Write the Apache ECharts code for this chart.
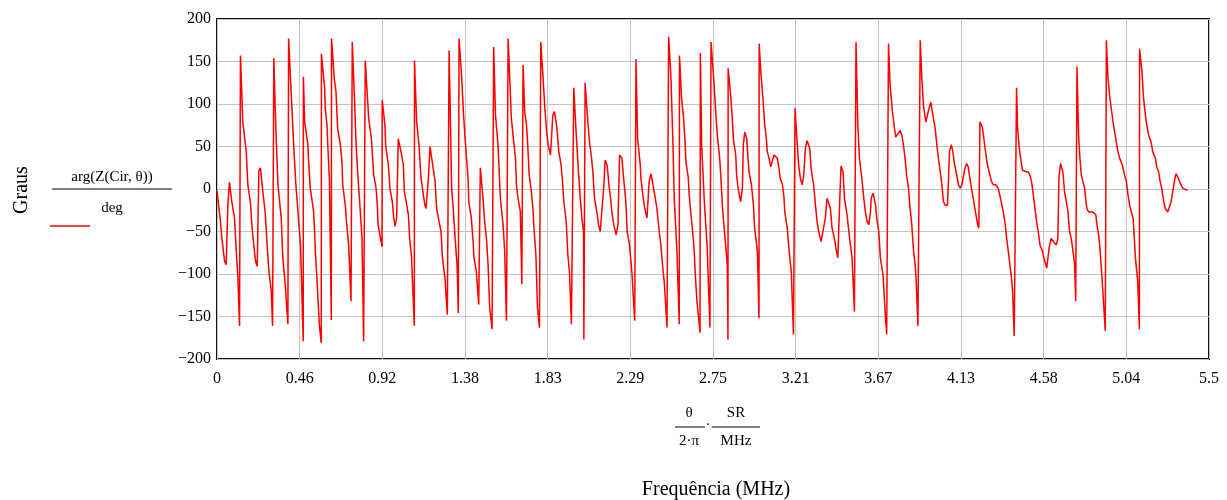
<!DOCTYPE html>
<html><head><meta charset="utf-8">
<script src="https://cdn.jsdelivr.net/npm/echarts@6/dist/echarts.min.js"></script>
<style>html,body{margin:0;padding:0;background:#fff}#c{width:1227px;height:500px}</style>
</head><body><div id="c"></div>
<script>
const xTickLabels = ['0','0.46','0.92','1.38','1.83','2.29','2.75','3.21','3.67','4.13','4.58','5.04','5.5'];
const yTickLabels = ['\u2212200','\u2212150','\u2212100','\u221250','0','50','100','150','200'];
const xs = [
0,0.019,0.027,0.042,0.051,0.060,0.069,0.082,0.097,0.105,0.116,0.125,0.130,0.143,0.162,0.171,0.186,0.193,0.204,0.214,0.223,0.232,0.241,0.254,0.267,0.278,0.288,0.301,0.308,0.315,0.325,0.338,0.356,0.365,0.378,0.393,0.397,0.412,0.425,0.436,0.449,0.463,0.478,0.479,
0.486,0.504,0.508,0.517,0.536,0.541,0.545,0.554,0.567,0.578,0.579,0.597,0.600,0.610,0.615,0.623,0.634,0.635,0.650,0.660,0.669,0.684,0.693,0.697,0.711,0.721,0.730,0.743,0.750,0.763,0.771,0.782,0.791,0.804,0.813,0.822,0.841,0.856,0.869,0.882,0.889,0.893,0.915,0.916,
0.931,0.935,0.950,0.959,0.972,0.980,0.987,0.996,1.005,1.015,1.024,1.033,1.039,1.052,1.061,1.068,1.079,1.083,1.094,1.095,1.107,1.120,1.131,1.144,1.153,1.159,1.172,1.181,1.190,1.196,1.209,1.218,1.231,1.242,1.250,1.264,1.277,1.287,1.301,1.311,1.320,1.331,1.338,1.342,1.357,1.366,1.375,1.392,
1.396,1.410,1.420,1.425,1.438,1.451,1.460,1.475,1.484,1.494,1.503,1.512,1.525,1.534,1.544,1.558,1.564,1.571,1.586,1.595,1.605,1.614,1.627,1.632,1.647,1.655,1.660,1.669,1.682,1.690,1.697,1.706,1.716,1.721,1.731,1.743,1.753,1.756,1.768,1.777,1.788,1.795,1.808,1.817,1.827,1.836,1.849,
1.862,1.871,1.884,1.895,1.908,1.917,1.923,1.936,1.945,1.954,1.965,1.978,1.991,2.004,2.014,2.023,2.032,2.034,2.041,2.052,2.065,2.075,2.084,2.093,2.106,2.115,2.125,2.134,2.145,2.152,2.163,2.173,2.182,2.189,2.200,2.213,2.223,2.232,2.245,2.256,2.267,2.274,2.287,2.300,2.316,2.323,
2.332,2.347,2.350,2.363,2.372,2.384,2.391,2.396,2.406,2.415,2.424,2.439,2.452,2.461,2.470,2.480,2.495,2.504,2.517,2.528,2.535,2.550,2.563,2.564,2.576,2.587,2.594,2.600,2.613,2.618,2.628,2.637,2.646,2.652,2.661,2.678,2.680,2.687,2.702,2.717,2.733,2.739,2.754,
2.765,2.774,2.787,2.792,2.802,2.807,2.820,2.829,2.833,2.834,2.848,2.857,2.863,2.876,2.881,2.889,2.903,2.913,2.918,2.926,2.937,2.944,2.950,2.963,2.974,2.981,2.996,3.005,3.006,3.014,3.027,3.037,3.046,3.051,3.061,3.070,3.079,3.088,3.098,3.107,3.116,3.122,3.135,3.144,3.148,3.162,3.172,3.184,3.196,3.205,3.214,
3.225,3.234,3.244,3.253,3.262,3.271,3.286,3.294,3.308,3.318,3.327,3.336,3.349,3.360,3.373,3.382,3.392,3.401,3.410,3.423,3.434,3.442,3.453,3.460,3.471,3.479,3.493,3.503,3.512,3.521,3.534,3.543,3.553,3.562,3.577,3.586,3.595,3.604,3.614,3.623,3.627,3.638,3.651,3.660,3.669,3.678,3.693,3.704,3.713,
3.723,3.732,3.745,3.754,3.763,3.773,3.788,3.797,3.806,3.815,3.825,3.834,3.843,3.852,3.862,3.871,3.876,3.886,3.899,3.908,3.917,3.930,3.939,3.948,3.958,3.969,3.982,3.991,4.000,4.010,4.019,4.028,4.037,4.050,4.056,4.061,4.071,4.080,4.087,4.098,4.111,4.121,4.130,
4.146,4.156,4.165,4.174,4.183,4.193,4.202,4.211,4.217,4.224,4.230,4.243,4.252,4.261,4.270,4.281,4.294,4.304,4.318,4.331,4.344,4.359,4.368,4.378,4.387,4.396,4.405,4.411,4.420,4.433,4.439,4.448,4.461,4.466,4.479,4.498,4.507,4.516,4.526,4.535,4.544,4.553,4.563,4.576,4.587,4.600,
4.607,4.616,4.625,4.631,4.638,4.653,4.662,4.668,4.677,4.690,4.699,4.709,4.718,4.727,4.736,4.746,4.755,4.761,4.768,4.777,4.783,4.792,4.801,4.810,4.816,4.823,4.833,4.842,4.853,4.862,4.872,4.879,4.888,4.894,4.903,4.909,4.925,4.931,4.940,4.949,4.958,4.968,4.977,4.986,4.995,5.005,5.020,5.032,5.042,5.051,5.060,5.069,5.079,
5.086,5.092,5.105,5.114,5.115,5.129,5.136,5.145,5.155,5.166,5.179,5.188,5.203,5.210,5.221,5.229,5.238,5.243,5.249,5.258,5.271,5.280,5.290,5.299,5.308,5.317,5.327,5.336,5.345,5.354,5.373,5.382
];
const ys = [
-2,-38,-58,-85,-89,-19,8,-15,-34,-66,-105,-161,157,79,44,5,-17,-42,-66,-85,-91,21,25,-3,-27,-66,-97,-120,-161,154,79,5,-34,-81,-112,-159,177,110,52,9,-27,-66,-179,132,
79,52,32,1,-27,-50,-73,-105,-159,-181,159,118,95,75,48,13,-154,177,130,114,71,52,32,5,-19,-46,-66,-132,173,102,52,13,-15,-58,-179,151,83,59,16,1,-19,-42,-68,105,
75,52,28,1,-15,-34,-44,-34,59,57,40,28,-3,-19,-30,-58,-81,-105,-161,151,79,52,13,-7,-19,-23,13,50,50,28,9,-23,-38,-50,-81,-105,-148,163,1,-27,-58,-89,-146,177,130,91,60,13,
-15,-34,-62,-81,-97,-136,25,-11,-38,-58,-89,-140,-165,167,87,52,24,-11,-42,-73,-155,177,110,83,52,36,5,-11,-27,-112,146,91,75,59,16,-3,-27,-42,-77,-140,-163,173,130,98,69,52,40,
87,91,73,44,28,5,-15,-38,-77,-97,-159,119,67,20,-11,-34,-50,-177,125,91,55,40,20,-11,-27,-42,-50,-50,5,34,28,5,-11,-27,-42,-54,-42,40,36,9,-15,-50,-66,-97,-155,153,
59,28,13,-11,-23,-34,-32,9,18,20,-3,-23,-50,-66,-89,-110,-163,179,130,52,-11,-73,-159,157,106,83,59,32,13,-7,-30,-50,-73,-101,-132,-169,160,52,-15,-66,-163,173,130,
91,63,36,20,-19,-34,-66,-89,-177,142,110,83,59,40,16,1,-15,1,52,67,59,36,20,5,-19,-46,-73,-152,171,141,106,75,59,44,36,26,28,40,42,36,24,13,5,-11,-27,-46,-73,-97,-171,95,63,
28,13,5,16,48,57,48,24,5,-19,-38,-50,-62,-64,-34,-11,-9,-23,-46,-58,-73,-81,-11,27,20,-11,-30,-50,-66,-81,-144,173,75,36,9,-11,-27,-38,-42,-27,-11,-5,-19,-38,-50,-81,-101,-144,-171,
171,122,91,75,61,61,69,63,52,36,13,1,-23,-42,-73,-89,-105,-161,175,130,98,79,79,95,102,87,71,52,36,20,5,-15,-19,-19,13,44,52,44,32,20,5,1,5,
24,30,26,13,1,-11,-23,-34,-42,-46,79,73,59,44,30,20,9,5,5,1,-11,-27,-38,-58,-73,-89,-105,-120,-173,119,71,48,28,22,21,20,16,9,-7,-23,-38,-50,-66,-73,-83,-93,
-93,-66,-58,-56,-62,-66,-58,13,30,20,-3,-15,-27,-50,-58,-73,-89,-132,144,63,40,16,9,1,-11,-23,-27,-28,-27,-25,-30,-42,-54,-66,-93,-112,-167,175,130,110,95,79,67,55,44,36,28,16,9,-7,-19,-27,-34,
-58,-81,-109,-165,165,137,110,91,75,63,55,44,36,26,20,9,1,-7,-15,-23,-27,-27,-15,-3,9,18,14,9,5,1,-1,-1
];
const seriesData = xs.map((x, i) => [x, ys[i]]);
const FONT = '"Liberation Serif", "Times New Roman", serif';
const chart = echarts.init(document.getElementById('c'), null, {renderer: 'canvas'});
const step = 5.5 / 12;
chart.setOption({
  animation: false,
  grid: {left: 217, right: 18, top: 19, height: 340, show: true, borderColor: '#111', borderWidth: 2, backgroundColor: 'transparent'},
  xAxis: {
    type: 'value', min: 0, max: 5.5, interval: step,
    axisLine: {show: false}, axisTick: {show: false},
    splitLine: {show: true, lineStyle: {color: '#c4c4c4', width: 1}},
    axisLabel: {
      margin: 12, color: '#000', fontFamily: FONT, fontSize: 16, showMaxLabel: true, showMinLabel: true,
      formatter: v => xTickLabels[Math.round(v / step)]
    }
  },
  yAxis: {
    type: 'value', min: -200, max: 200, interval: 50,
    axisLine: {show: false}, axisTick: {show: false},
    splitLine: {show: true, lineStyle: {color: '#c4c4c4', width: 1}},
    axisLabel: {
      margin: 6, color: '#000', fontFamily: FONT, fontSize: 16,
      formatter: v => yTickLabels[Math.round((v + 200) / 50)]
    }
  },
  series: [{
    type: 'line', data: seriesData, showSymbol: false, symbol: 'none',
    lineStyle: {color: '#ff0000', width: 1.5}, z: 3
  }],
  graphic: [
    {type: 'text', x: 22, y: 190, rotation: Math.PI / 2, style: {text: 'Graus', font: '20px ' + FONT, fill: '#000', textAlign: 'center', textVerticalAlign: 'middle'}},
    {type: 'text', x: 112, y: 177, style: {text: 'arg(Z(Cir, \u03b8))', font: '15px ' + FONT, fill: '#000', textAlign: 'center', textVerticalAlign: 'middle'}},
    {type: 'line', shape: {x1: 52, y1: 189, x2: 172, y2: 189}, style: {stroke: '#000', lineWidth: 1}},
    {type: 'text', x: 112, y: 208, style: {text: 'deg', font: '15px ' + FONT, fill: '#000', textAlign: 'center', textVerticalAlign: 'middle'}},
    {type: 'line', shape: {x1: 50, y1: 226, x2: 90, y2: 226}, style: {stroke: '#ff0000', lineWidth: 1.5}},
    {type: 'text', x: 689, y: 413, style: {text: '\u03b8', font: '15px ' + FONT, fill: '#000', textAlign: 'center', textVerticalAlign: 'middle'}},
    {type: 'line', shape: {x1: 675, y1: 427, x2: 705, y2: 427}, style: {stroke: '#000', lineWidth: 1}},
    {type: 'text', x: 689, y: 441, style: {text: '2\u00b7\u03c0', font: '15px ' + FONT, fill: '#000', textAlign: 'center', textVerticalAlign: 'middle'}},
    {type: 'text', x: 708, y: 425, style: {text: '\u00b7', font: '15px ' + FONT, fill: '#000', textAlign: 'center', textVerticalAlign: 'middle'}},
    {type: 'text', x: 736, y: 413, style: {text: 'SR', font: '15px ' + FONT, fill: '#000', textAlign: 'center', textVerticalAlign: 'middle'}},
    {type: 'line', shape: {x1: 712, y1: 427, x2: 760, y2: 427}, style: {stroke: '#000', lineWidth: 1}},
    {type: 'text', x: 736, y: 441, style: {text: 'MHz', font: '15px ' + FONT, fill: '#000', textAlign: 'center', textVerticalAlign: 'middle'}},
    {type: 'text', x: 716, y: 490, style: {text: 'Frequ\u00eancia (MHz)', font: '20px ' + FONT, fill: '#000', textAlign: 'center', textVerticalAlign: 'middle'}}
  ]
});
</script>
</body></html>
